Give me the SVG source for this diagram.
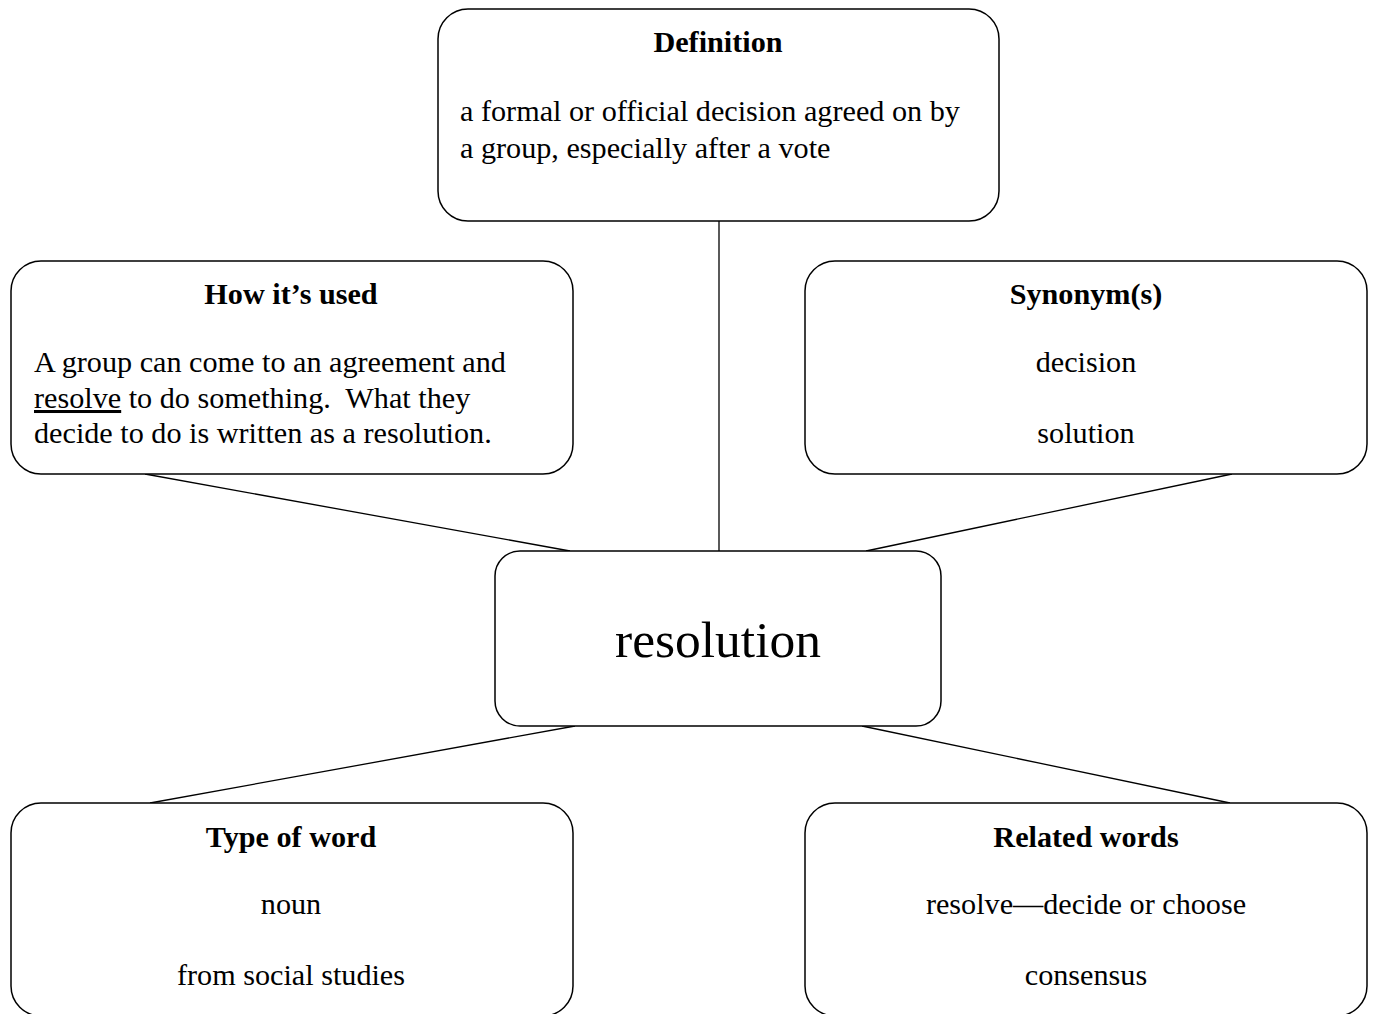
<svg xmlns="http://www.w3.org/2000/svg" width="1374" height="1014" viewBox="0 0 1374 1014">
<style>
.box{fill:#fff;stroke:#000;stroke-width:1.5}
.conn line{stroke:#000;stroke-width:1.3}
text{font-family:"Liberation Serif","Times New Roman",serif;fill:#000;font-size:30.2px;white-space:pre}
.t{font-weight:bold;text-anchor:middle}
.c{text-anchor:middle}
</style>
<rect width="1374" height="1014" fill="#fff"/>
<g class="conn" id="connectors">
<line x1="719" y1="221" x2="719" y2="551"/>
<line x1="145" y1="474" x2="570" y2="551"/>
<line x1="1232" y1="474" x2="866" y2="551"/>
<line x1="575" y1="726" x2="150" y2="803"/>
<line x1="862" y1="726" x2="1230" y2="803"/>
</g>
<g id="definition">
<rect class="box" x="438" y="9" width="561" height="212" rx="30"/>
<text class="t" x="718" y="52">Definition</text>
<text x="460" y="121">a formal or official decision agreed on by</text>
<text x="460" y="158">a group, especially after a vote</text>
</g>
<g id="how-used">
<rect class="box" x="11" y="261" width="562" height="213" rx="30"/>
<text class="t" x="291" y="304">How it’s used</text>
<text x="34" y="372">A group can come to an agreement and</text>
<text x="34" y="408" xml:space="preserve"><tspan text-decoration="underline">resolve</tspan> to do something.  What they</text>
<text x="34" y="443">decide to do is written as a resolution.</text>
</g>
<g id="synonyms">
<rect class="box" x="805" y="261" width="562" height="213" rx="30"/>
<text class="t" x="1086" y="304">Synonym(s)</text>
<text class="c" x="1086" y="372">decision</text>
<text class="c" x="1086" y="443">solution</text>
</g>
<g id="center">
<rect class="box" x="495" y="551" width="446" height="175" rx="25"/>
<text class="c" x="718" y="657" style="font-size:51.5px">resolution</text>
</g>
<g id="type-of-word">
<rect class="box" x="11" y="803" width="562" height="213" rx="30"/>
<text class="t" x="291" y="847">Type of word</text>
<text class="c" x="291" y="914">noun</text>
<text class="c" x="291" y="985">from social studies</text>
</g>
<g id="related-words">
<rect class="box" x="805" y="803" width="562" height="213" rx="30"/>
<text class="t" x="1086" y="847">Related words</text>
<text class="c" x="1086" y="914">resolve—decide or choose</text>
<text class="c" x="1086" y="985">consensus</text>
</g>
</svg>
